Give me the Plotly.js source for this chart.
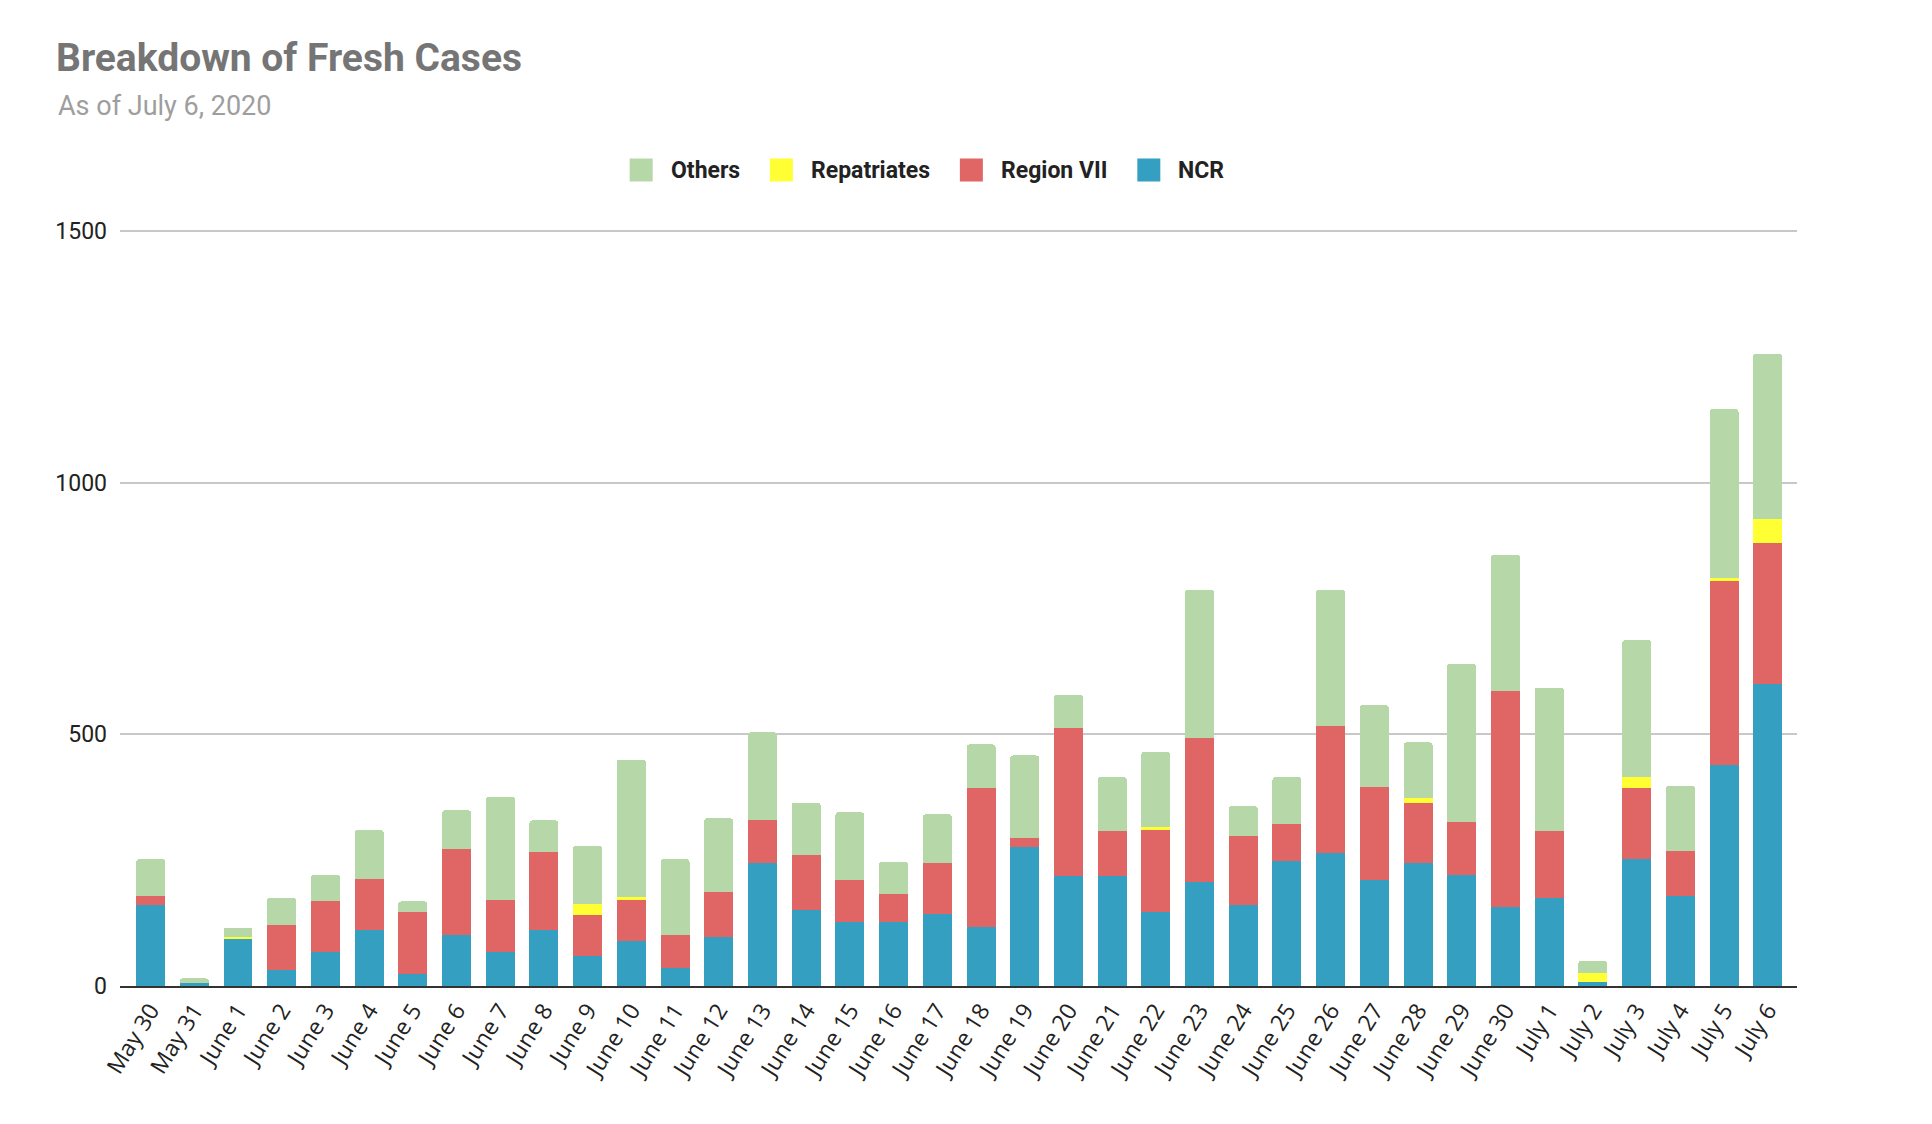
<!DOCTYPE html>
<html>
<head>
<meta charset="utf-8">
<script src="https://cdn.plot.ly/plotly-3.0.1.min.js"></script>
<style>
  html, body { margin: 0; padding: 0; background: #fff; }
  #chart { width: 1932px; height: 1124px; }
</style>
</head>
<body>
<div id="chart"></div>
<script>
const dates = ["May 30","May 31","June 1","June 2","June 3","June 4","June 5","June 6","June 7","June 8",
  "June 9","June 10","June 11","June 12","June 13","June 14","June 15","June 16","June 17","June 18",
  "June 19","June 20","June 21","June 22","June 23","June 24","June 25","June 26","June 27","June 28",
  "June 29","June 30","July 1","July 2","July 3","July 4","July 5","July 6"];

const ncr = [160,5,94,32,67,112,23,101,67,112,
  59,89,35,97,245,151,128,128,144,117,
  277,218,218,148,206,160,248,265,210,245,
  221,156,175,8,253,178,439,601];

const regionVII = [18,0,0,89,101,101,125,171,104,155,
  82,82,66,90,85,109,82,55,101,276,
  18,294,89,162,287,139,74,251,186,119,
  105,430,132,0,140,90,365,280];

const repatriates = [0,0,3,0,0,0,0,0,0,0,
  22,5,0,0,0,0,0,0,0,0,
  0,0,0,5,0,0,0,0,0,9,
  0,0,0,17,22,0,7,47];

const others = [74,10,19,54,53,97,20,77,205,62,
  116,274,151,146,174,104,135,64,96,87,
  163,66,108,150,294,58,93,271,162,111,
  314,271,286,25,272,130,335,328];

const seriesNames = ['NCR', 'Region VII', 'Repatriates', 'Others'];
const seriesValues = [ncr, regionVII, repatriates, others];
const seriesColors = ['#349fc0', '#e06666', '#ffff33', '#b6d7a8'];

const yTicks = [0, 500, 1000, 1500];

const FONT = 'Roboto, "Open Sans", Arial, sans-serif';
const TICK_FONT = '"Open Sans", Roboto, Arial, sans-serif';

// page geometry (pixels)
const W = 1932, H = 1124;
const M = { l: 120, r: 135, t: 230, b: 138 };
const PW = W - M.l - M.r, PH = H - M.t - M.b;
const px2x = px => (px - M.l) / PW;
const py2y = py => (H - M.b - py) / PH;

const traces = seriesNames.map((name, i) => ({
  type: 'bar',
  name: name,
  x: dates,
  y: seriesValues[i],
  marker: { color: seriesColors[i], line: { width: 0 } },
  showlegend: false,
  hoverinfo: 'x+y+name'
}));

// custom legend (order: Others, Repatriates, Region VII, NCR), centred like the reference
const legendFontSize = 23;
const canvas = document.createElement('canvas');
const ctx = canvas.getContext('2d');
ctx.font = 'bold ' + legendFontSize + 'px Roboto';
const SQ = 23, SQ_GAP = 16, ITEM_GAP = 32, LEG_CX = 926, LEG_CY = 170;
const order = [3, 2, 1, 0];
const widths = order.map(i => ctx.measureText(seriesNames[i]).width);
const total = widths.reduce((a, w) => a + SQ + SQ_GAP + w, 0) + ITEM_GAP * (order.length - 1);
let cursor = LEG_CX - total / 2;
const shapes = [];
const annotations = [];
order.forEach((i, k) => {
  shapes.push({
    type: 'rect', xref: 'paper', yref: 'paper',
    x0: px2x(cursor), x1: px2x(cursor + SQ),
    y0: py2y(LEG_CY + SQ / 2), y1: py2y(LEG_CY - SQ / 2),
    fillcolor: seriesColors[i], line: { width: 0 }
  });
  annotations.push({
    text: seriesNames[i], xref: 'paper', yref: 'paper',
    x: px2x(cursor + SQ + SQ_GAP), xanchor: 'left',
    y: py2y(LEG_CY), yanchor: 'middle',
    showarrow: false,
    font: { family: FONT, size: legendFontSize, color: '#222222', weight: 'bold' }
  });
  cursor += SQ + SQ_GAP + widths[k] + ITEM_GAP;
});

annotations.push({
  text: 'As of July 6, 2020',
  xref: 'paper', yref: 'paper',
  x: px2x(56), xanchor: 'left',
  y: py2y(106), yanchor: 'middle',
  showarrow: false,
  font: { family: FONT, size: 27, color: '#9e9e9e' }
});

const layout = {
  width: W,
  height: H,
  paper_bgcolor: '#ffffff',
  plot_bgcolor: '#ffffff',
  margin: { l: M.l, r: M.r, t: M.t, b: M.b, pad: 0 },
  barmode: 'stack',
  bargap: 0.337,
  barcornerradius: 3,
  font: { family: FONT, color: '#222222', size: 21 },
  title: {
    text: 'Breakdown of Fresh Cases',
    xref: 'container', yref: 'container',
    x: 56 / W, xanchor: 'left',
    y: 1 - 57 / H, yanchor: 'middle',
    font: { family: FONT, size: 39, color: '#757575', weight: 'bold' }
  },
  shapes: shapes,
  annotations: annotations,
  showlegend: false,
  xaxis: {
    type: 'category',
    range: [-0.7, 37.67],
    showgrid: false,
    showline: true,
    linecolor: '#333333',
    linewidth: 2,
    ticks: '',
    tickangle: -58,
    tickfont: { family: TICK_FONT, size: 23, color: '#222222' },
    automargin: false
  },
  yaxis: {
    range: [0, 1502],
    tickvals: yTicks,
    ticktext: yTicks.map(String),
    showgrid: true,
    gridcolor: '#c8c8c8',
    gridwidth: 1.5,
    zeroline: false,
    showline: false,
    ticks: '',
    ticklabelstandoff: 12,
    tickfont: { family: FONT, size: 23, color: '#222222' },
    automargin: false
  }
};

Plotly.newPlot('chart', traces, layout, { displayModeBar: false });
</script>
</body>
</html>
